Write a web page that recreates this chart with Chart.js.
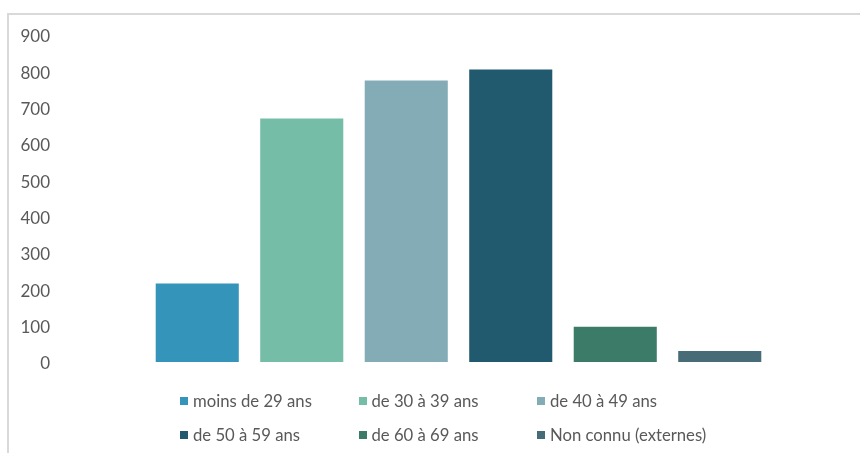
<!DOCTYPE html>
<html>
<head>
<meta charset="utf-8">
<script src="https://cdn.jsdelivr.net/npm/chart.js@4/dist/chart.umd.min.js"></script>
<style>
  html, body { margin: 0; padding: 0; background: #ffffff; }
  #wrap { position: relative; width: 860px; height: 453px; overflow: hidden; background: #fff; }
  #frame { position: absolute; left: 7px; top: 13px; width: 870px; height: 460px;
           border-top: 2px solid #d9d9d9; border-left: 2px solid #d9d9d9; pointer-events: none; }
  #legend { position: absolute; left: 0; top: 0; width: 860px; height: 453px; pointer-events: none;
            font-family: Lato, "Open Sans", sans-serif; font-size: 16.7px; color: #595959; }
  .item { position: absolute; height: 20px; line-height: 20px; white-space: nowrap; display: flex; align-items: center; }
  .box { display: inline-block; width: 8px; height: 8px; margin-right: 5px; }
</style>
</head>
<body>
<div id="wrap">
  <canvas id="c"></canvas>
  <div id="frame"></div>
  <div id="legend"></div>
</div>
<script>
const categories = ["moins de 29 ans", "de 30 à 39 ans", "de 40 à 49 ans", "de 50 à 59 ans", "de 60 à 69 ans", "Non connu (externes)"];
const values = [216, 670, 775, 805, 97, 30];
const colors = ["#3494BA", "#75BDA7", "#84ACB6", "#215A6E", "#3C7B67", "#476B77"];
const yTicks = [0, 100, 200, 300, 400, 500, 600, 700, 800, 900];

const chart = new Chart(document.getElementById('c'), {
  type: 'bar',
  data: {
    labels: categories,
    datasets: [{
      data: values,
      backgroundColor: colors,
      borderWidth: 0,
      categoryPercentage: 1,
      barPercentage: 0.795
    }]
  },
  options: {
    responsive: true,
    maintainAspectRatio: false,
    animation: false,
    layout: { padding: { left: 0, right: 88, top: 35, bottom: 91 } },
    plugins: { legend: { display: false }, tooltip: { enabled: false } },
    scales: {
      x: { display: false },
      y: {
        min: yTicks[0],
        max: yTicks[yTicks.length - 1],
        afterBuildTicks: (s) => { s.ticks = yTicks.map(v => ({ value: v })); },
        afterFit: (s) => { s.width = 145; s.paddingTop = 0; s.paddingBottom = 0; },
        grid: { display: false, drawTicks: false },
        border: { display: false },
        ticks: {
          padding: 95,
          labelOffset: 2,
          color: '#595959',
          font: { family: 'Lato', size: 17 }
        }
      }
    }
  }
});

// legend built from the chart's own data
const leg = document.getElementById('legend');
const lbls = chart.data.labels;
const bgs = chart.data.datasets[0].backgroundColor;
lbls.forEach((l, i) => {
  const d = document.createElement('div');
  d.className = 'item';
  d.style.left = (180 + (i % 3) * 178.5) + 'px';
  d.style.top = (391 + Math.floor(i / 3) * 34) + 'px';
  const b = document.createElement('span');
  b.className = 'box';
  b.style.background = bgs[i];
  const t = document.createElement('span');
  t.textContent = l;
  d.appendChild(b); d.appendChild(t);
  leg.appendChild(d);
});
</script>
</body>
</html>
